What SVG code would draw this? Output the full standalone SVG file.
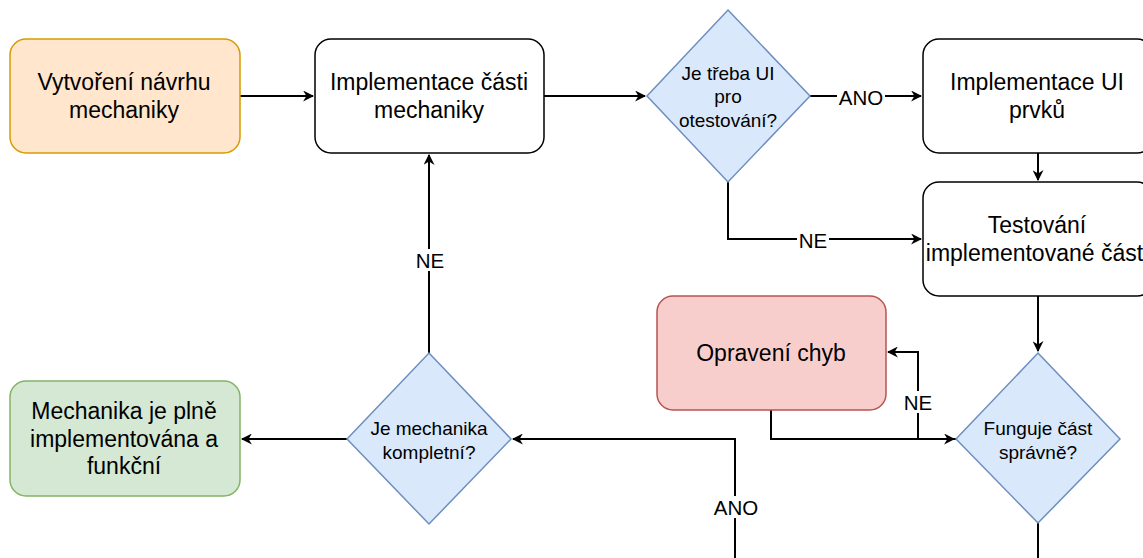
<svg xmlns="http://www.w3.org/2000/svg" width="1143" height="558" viewBox="0 0 1143 558">
<style>
text{font-family:"Liberation Sans",Arial,sans-serif;fill:#000;text-anchor:middle}
.t{font-size:23px}
.d{font-size:19px}
.l{font-size:20.5px}
.box{stroke-width:1.5}
.c{fill:none;stroke:#000;stroke-width:2}
.lb{fill:#fff}
</style>
<defs>
<marker id="a" viewBox="0 0 10 10" refX="9" refY="5" markerWidth="11" markerHeight="11" markerUnits="userSpaceOnUse" orient="auto">
<path d="M0,0 L10,5 L0,10 L3,5 Z" fill="#000"/>
</marker>
</defs>
<rect width="1143" height="558" fill="#fff"/>
<g id="connectors">
<path class="c" d="M240,96 H313" marker-end="url(#a)"/>
<path class="c" d="M544,96 H645" marker-end="url(#a)"/>
<path class="c" d="M810,96 H921" marker-end="url(#a)"/>
<path class="c" d="M728,182 V239 H921" marker-end="url(#a)"/>
<path class="c" d="M1038,153 V180" marker-end="url(#a)"/>
<path class="c" d="M1038,296 V351" marker-end="url(#a)"/>
<path class="c" d="M956,439 H918 V352 H888" marker-end="url(#a)"/>
<path class="c" d="M771,410 V439 H954" marker-end="url(#a)"/>
<path class="c" d="M1038,523 V558"/>
<path class="c" d="M735,558 V439 H513" marker-end="url(#a)"/>
<path class="c" d="M429,353 V155" marker-end="url(#a)"/>
<path class="c" d="M347,439 H242" marker-end="url(#a)"/>
<rect class="lb" x="837" y="86" width="48" height="22"/>
<text class="l" x="861" y="104.5">ANO</text>
<rect class="lb" x="797" y="229" width="32" height="22"/>
<text class="l" x="813" y="247.5">NE</text>
<rect class="lb" x="902" y="391" width="32" height="22"/>
<text class="l" x="918" y="409.5">NE</text>
<rect class="lb" x="712" y="496" width="48" height="22"/>
<text class="l" x="736" y="514.5">ANO</text>
<rect class="lb" x="413" y="249" width="32" height="22"/>
<text class="l" x="430" y="267.5">NE</text>
</g>
<g id="n1">
<rect class="box" x="10" y="39" width="230" height="114" rx="16" fill="#ffe6cc" stroke="#d79b00"/>
<text class="t" x="124" y="90">Vytvoření návrhu</text>
<text class="t" x="124" y="117.5">mechaniky</text>
</g>
<g id="n2">
<rect class="box" x="315" y="39" width="229" height="114" rx="16" fill="#fff" stroke="#000"/>
<text class="t" x="429" y="90">Implementace části</text>
<text class="t" x="429" y="117.5">mechaniky</text>
</g>
<g id="d1">
<path class="box" d="M728,10 L810,96 L728,182 L647,96 Z" fill="#dae8fc" stroke="#6c8ebf"/>
<text class="d" x="728" y="79.5">Je třeba UI</text>
<text class="d" x="728" y="103">pro</text>
<text class="d" x="728" y="126.5">otestování?</text>
</g>
<g id="n3">
<rect class="box" x="923" y="39" width="230" height="114" rx="16" fill="#fff" stroke="#000"/>
<text class="t" x="1037" y="90">Implementace UI</text>
<text class="t" x="1037" y="117.5">prvků</text>
</g>
<g id="n4">
<rect class="box" x="923" y="182" width="230" height="114" rx="16" fill="#fff" stroke="#000"/>
<text class="t" x="1037" y="233">Testování</text>
<text class="t" x="1037" y="260.5">implementované části</text>
</g>
<g id="d2">
<path class="box" d="M1038,353 L1120,439 L1038,523 L956,439 Z" fill="#dae8fc" stroke="#6c8ebf"/>
<text class="d" x="1038" y="434.5">Funguje část</text>
<text class="d" x="1038" y="458.5">správně?</text>
</g>
<g id="n5">
<rect class="box" x="657" y="296" width="229" height="114" rx="16" fill="#f8cecc" stroke="#b85450"/>
<text class="t" x="771" y="361">Opravení chyb</text>
</g>
<g id="d3">
<path class="box" d="M429,353 L511,439 L429,524 L347,439 Z" fill="#dae8fc" stroke="#6c8ebf"/>
<text class="d" x="429" y="434.5">Je mechanika</text>
<text class="d" x="429" y="458.5">kompletní?</text>
</g>
<g id="n6">
<rect class="box" x="10" y="381" width="230" height="115" rx="16" fill="#d5e8d4" stroke="#82b366"/>
<text class="t" x="124" y="419">Mechanika je plně</text>
<text class="t" x="124" y="446.5">implementována a</text>
<text class="t" x="124" y="474">funkční</text>
</g>
</svg>
